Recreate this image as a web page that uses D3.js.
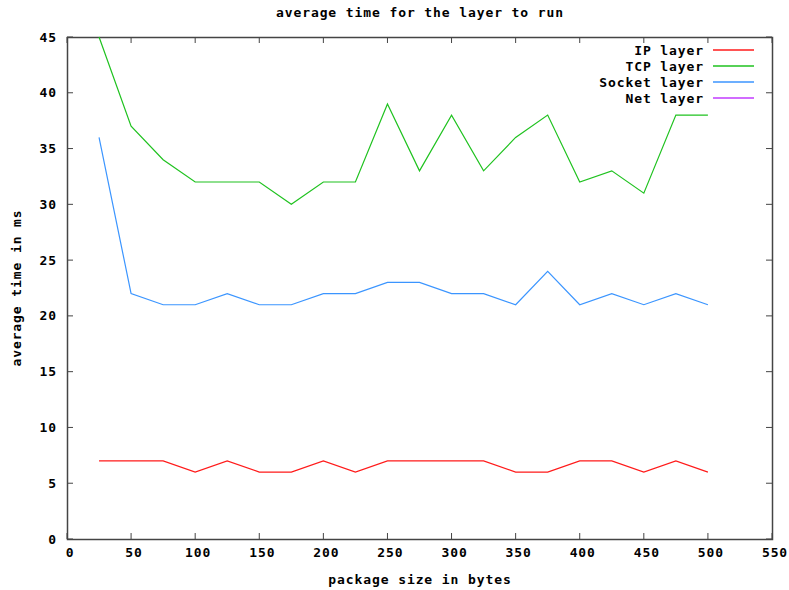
<!DOCTYPE html>
<html>
<head>
<meta charset="utf-8">
<script src="https://cdn.jsdelivr.net/npm/d3@7"></script>
<style>
  body { margin: 0; background: #fff; }
  text { font-family: "DejaVu Sans Mono", monospace; font-weight: bold; font-size: 13px; letter-spacing: 0.9px; fill: #000; }
</style>
</head>
<body>
<svg id="chart" width="789" height="590"></svg>
<script>
// package size in bytes
const sizes = [25, 50, 75, 100, 125, 150, 175, 200, 225, 250, 275, 300, 325, 350, 375, 400, 425, 450, 475, 500];
// average time in ms per layer
const ipLayer = [7, 7, 7, 6, 7, 6, 6, 7, 6, 7, 7, 7, 7, 6, 6, 7, 7, 6, 7, 6];
const tcpLayer = [45, 37, 34, 32, 32, 32, 30, 32, 32, 39, 33, 38, 33, 36, 38, 32, 33, 31, 38, 38];
const socketLayer = [36, 22, 21, 21, 22, 21, 21, 22, 22, 23, 23, 22, 22, 21, 24, 21, 22, 21, 22, 21];
const netLayer = []; // nothing visible in the plot

const xTicks = d3.range(0, 551, 50);
const yTicks = d3.range(0, 46, 5);

const series = [
  { name: "IP layer", values: ipLayer, color: "#ff1a1a" },
  { name: "TCP layer", values: tcpLayer, color: "#1fc21f" },
  { name: "Socket layer", values: socketLayer, color: "#3b95ff" },
  { name: "Net layer", values: netLayer, color: "#c23bff" },
];

const svg = d3.select("#chart");
const margin = { top: 37, right: 17, bottom: 51, left: 67 };
const width = 789 - margin.left - margin.right;
const height = 590 - margin.top - margin.bottom;

const x = d3.scaleLinear().domain([0, 550]).range([margin.left, margin.left + width]);
const y = d3.scaleLinear().domain([0, 45]).range([margin.top + height, margin.top]);

const axisColor = "#444";
const tickLen = 6;

// ticks on all four sides, pointing inward (gnuplot mirror)
const g = svg.append("g");
xTicks.forEach(t => {
  g.append("line").attr("x1", x(t)).attr("x2", x(t))
    .attr("y1", y(0)).attr("y2", y(0) - tickLen).attr("stroke", axisColor);
  g.append("line").attr("x1", x(t)).attr("x2", x(t))
    .attr("y1", y(45)).attr("y2", y(45) + tickLen).attr("stroke", axisColor);
  g.append("text").attr("x", x(t) + 3).attr("y", y(0) + 18)
    .attr("text-anchor", "middle").text(t);
});
yTicks.forEach(t => {
  g.append("line").attr("x1", x(0)).attr("x2", x(0) + tickLen)
    .attr("y1", y(t)).attr("y2", y(t)).attr("stroke", axisColor);
  g.append("line").attr("x1", x(550)).attr("x2", x(550) - tickLen)
    .attr("y1", y(t)).attr("y2", y(t)).attr("stroke", axisColor);
  g.append("text").attr("x", x(0) - 10).attr("y", y(t) + 4.5)
    .attr("text-anchor", "end").text(t);
});

// border
svg.append("rect")
  .attr("x", x(0) + 0.5).attr("y", y(45) + 0.5)
  .attr("width", width).attr("height", height)
  .attr("fill", "none").attr("stroke", axisColor).attr("stroke-width", 1.5);

// lines
const line = d3.line()
  .x((d, i) => x(sizes[i]))
  .y(d => y(d));

series.forEach(s => {
  if (!s.values.length) return;
  svg.append("path")
    .datum(s.values)
    .attr("fill", "none")
    .attr("stroke", s.color)
    .attr("stroke-width", 1.2)
    .attr("d", line);
});

// legend
const legend = svg.append("g");
series.forEach((s, i) => {
  const ly = 50 + i * 16;
  legend.append("text").attr("x", 704).attr("y", ly + 4.5)
    .attr("text-anchor", "end").text(s.name);
  legend.append("line").attr("x1", 713).attr("x2", 754)
    .attr("y1", ly).attr("y2", ly)
    .attr("stroke", s.color).attr("stroke-width", 1.5);
});

// title and axis labels
svg.append("text").attr("x", 420).attr("y", 17)
  .attr("text-anchor", "middle").text("average time for the layer to run");
svg.append("text").attr("x", 420).attr("y", 584)
  .attr("text-anchor", "middle").text("package size in bytes");
svg.append("text")
  .attr("transform", "translate(21,288) rotate(-90)")
  .attr("text-anchor", "middle").text("average time in ms");
</script>
</body>
</html>
